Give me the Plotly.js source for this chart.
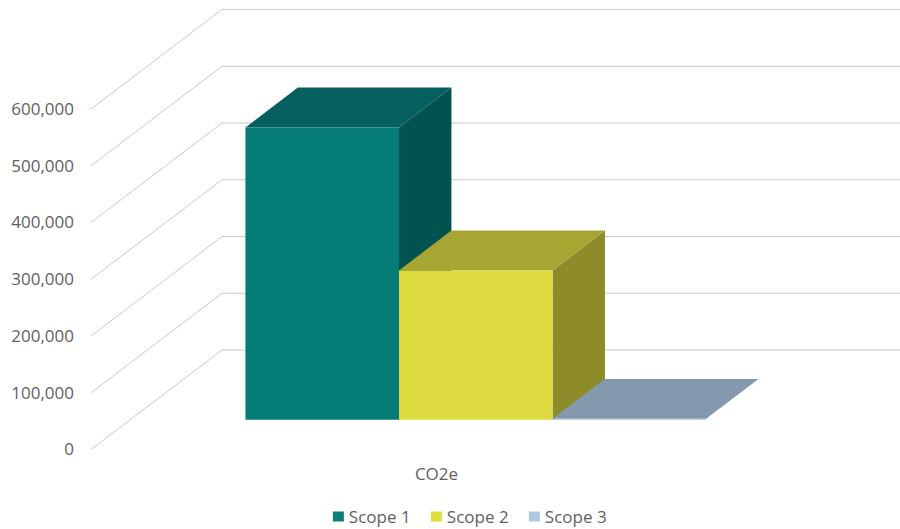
<!DOCTYPE html>
<html>
<head>
<meta charset="utf-8">
<script src="https://cdn.plot.ly/plotly-3.0.1.min.js"></script>
<style>html,body{margin:0;padding:0;background:#fff}#chart{width:900px;height:529px}</style>
</head>
<body>
<div id="chart"></div>
<script>
// Emissions per scope, CO2e
const categories = ['CO2e'];
const seriesNames = ['Scope 1', 'Scope 2', 'Scope 3'];
const seriesValues = [515000, 263000, 1500];
const tickValues = [0, 100000, 200000, 300000, 400000, 500000, 600000];
const tickLabels = ['0', '100,000', '200,000', '300,000', '400,000', '500,000', '600,000'];

const frontColors = ['#067C76', '#DDDB3F', '#A5C3D6'];
const topColors = ['#045F5E', '#A8A632', '#8499AD'];
const sideColors = ['#02534F', '#8E8C2A', '#6F8496'];
const legendColors = ['#0B7F78', '#DFDD3F', '#ABCBDD'];
const gridColor = '#c9c9c9';
const textColor = '#5f5f5f';

// Oblique projection: depth 0 is the front of the floor, depth 1 the back wall
const depthX = 0.18958;      // category units per full depth
const depthY = 175300;       // value units per full depth
const slotLeft = -0.5;       // left edge of the category band
const gapRatio = 0.75;       // gap on each side, as a share of one bar
const barDepthStart = 0.3;
const barDepthEnd = 0.7;

const barWidth = 1 / (seriesValues.length + 2 * gapRatio);
const project = (x, v, d) => [x + d * depthX, v + d * depthY];

function polygon(points, color) {
  const pts = points.concat([points[0]]);
  return {
    type: 'scatter', mode: 'lines', fill: 'toself', fillcolor: color,
    x: pts.map(p => p[0]), y: pts.map(p => p[1]),
    line: {width: 0, color: color}, showlegend: false, hoverinfo: 'skip'
  };
}

const traces = [];

// Gridlines: up the side wall, then across the back wall
tickValues.forEach(v => {
  const a = project(slotLeft, v, 0);
  const b = project(slotLeft, v, 1);
  const c = project(slotLeft + 1, v, 1);
  traces.push({
    type: 'scatter', mode: 'lines',
    x: [a[0], b[0], c[0]], y: [a[1], b[1], c[1]],
    line: {color: gridColor, width: 1}, showlegend: false, hoverinfo: 'skip'
  });
});

// Boxes, left to right so that each one covers the side of its neighbour
seriesValues.forEach((value, i) => {
  const x0 = slotLeft + (gapRatio + i) * barWidth;
  const x1 = x0 + barWidth;
  const s = barDepthStart, e = barDepthEnd;
  traces.push(polygon([project(x1, 0, s), project(x1, 0, e), project(x1, value, e), project(x1, value, s)], sideColors[i]));
  traces.push(polygon([project(x0, value, s), project(x1, value, s), project(x1, value, e), project(x0, value, e)], topColors[i]));
  traces.push(polygon([project(x0, 0, s), project(x1, 0, s), project(x1, value, s), project(x0, value, s)], frontColors[i]));
});

// Legend entries: a short thick dash forms the square key next to each label
seriesNames.forEach((name, i) => {
  traces.push({
    type: 'scatter', mode: 'lines', name: name,
    x: [null], y: [null],
    line: {color: legendColors[i], width: 11, dash: '0px,19px,11px,30px'},
    hoverinfo: 'skip'
  });
});
// Blank trailing entry keeps the last label inside the legend's clip box
traces.push({
  type: 'scatter', mode: 'lines', name: '\u00a0',
  x: [null], y: [null], line: {color: 'rgba(0,0,0,0)', width: 0}, hoverinfo: 'skip'
});

const layout = {
  width: 900, height: 529,
  margin: {l: 91, r: 0, t: 0, b: 69, pad: 0},
  paper_bgcolor: '#fff', plot_bgcolor: '#fff',
  font: {family: '"Open Sans", sans-serif', size: 17, color: textColor},
  showlegend: true,
  legend: {
    orientation: 'h', x: 0.2693, xanchor: 'left',
    yref: 'container', y: 0.057, yanchor: 'top',
    entrywidth: 53, entrywidthmode: 'pixels',
    font: {size: 17, color: textColor}, bgcolor: 'rgba(0,0,0,0)'
  },
  xaxis: {
    range: [-0.5, 0.6708], showgrid: false, zeroline: false, showline: false,
    automargin: false,
    tickmode: 'array', tickvals: [0], ticktext: categories, ticks: '',
    ticklabelstandoff: 2,
    tickfont: {size: 17, color: textColor}, fixedrange: true
  },
  yaxis: {
    range: [-18502, 792070], showgrid: false, zeroline: false, showline: false,
    automargin: false,
    tickmode: 'array', tickvals: tickValues, ticktext: tickLabels, ticks: '',
    ticklabelstandoff: 16,
    tickfont: {size: 17, color: textColor}, fixedrange: true
  }
};

Plotly.newPlot('chart', traces, layout, {displayModeBar: false, staticPlot: true});
</script>
</body>
</html>
